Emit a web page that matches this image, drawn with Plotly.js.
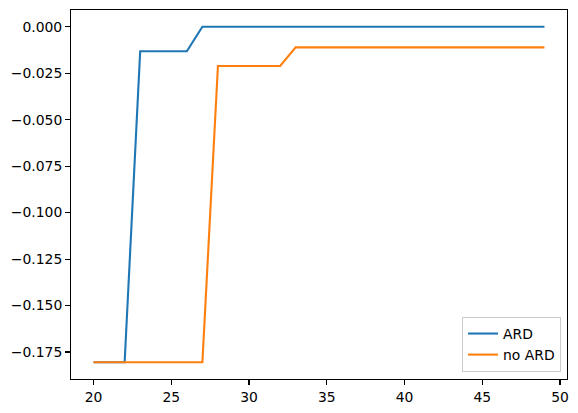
<!DOCTYPE html>
<html>
<head>
<meta charset="utf-8">
<script src="https://cdn.plot.ly/plotly-3.0.1.min.js"></script>
<style>html,body{margin:0;padding:0;background:#fff;}#chart{width:578px;height:413px;}</style>
</head>
<body>
<div id="chart"></div>
<script>
const xValues = [20,21,22,23,24,25,26,27,28,29,30,31,32,33,34,35,36,37,38,39,40,41,42,43,44,45,46,47,48,49];
const ardValues = [-0.1805,-0.1805,-0.1805,-0.0132,-0.0132,-0.0132,-0.0132,0,0,0,0,0,0,0,0,0,0,0,0,0,0,0,0,0,0,0,0,0,0,0];
const noArdValues = [-0.1805,-0.1805,-0.1805,-0.1805,-0.1805,-0.1805,-0.1805,-0.1805,-0.0211,-0.0211,-0.0211,-0.0211,-0.0211,-0.0111,-0.0111,-0.0111,-0.0111,-0.0111,-0.0111,-0.0111,-0.0111,-0.0111,-0.0111,-0.0111,-0.0111,-0.0111,-0.0111,-0.0111,-0.0111,-0.0111];
const seriesNames = ["ARD", "no ARD"];
const xTicks = [20,25,30,35,40,45,50];
const yTicks = [0,-0.025,-0.05,-0.075,-0.1,-0.125,-0.15,-0.175];

const font = {family: "DejaVu Sans", size: 13.9, color: "#000"};
const traces = [
  {x: xValues, y: ardValues, name: seriesNames[0], mode: "lines", line: {color: "#1f77b4", width: 2.1}},
  {x: xValues, y: noArdValues, name: seriesNames[1], mode: "lines", line: {color: "#ff7f0e", width: 2.1}}
];
const axisCommon = {showline: true, mirror: true, linecolor: "#000", linewidth: 1.1, ticks: "outside", ticklen: 4.9, tickwidth: 1.1, tickcolor: "#000", showgrid: false, zeroline: false, tickfont: font};
const layout = {
  width: 578, height: 413,
  margin: {l: 71, r: 11, t: 10, b: 34},
  paper_bgcolor: "#fff", plot_bgcolor: "#fff",
  font: font,
  xaxis: Object.assign({}, axisCommon, {range: [18.55, 50.45], tickvals: xTicks, ticktext: xTicks.map(String)}),
  yaxis: Object.assign({}, axisCommon, {range: [-0.1895, 0.009], tickvals: yTicks, tickformat: ".3f"}),
  showlegend: true,
  legend: {x: 0.988, y: 0.019, xanchor: "right", yanchor: "bottom", bgcolor: "rgba(255,255,255,0.8)", bordercolor: "#cccccc", borderwidth: 1, font: font, tracegroupgap: 0}
};
Plotly.newPlot("chart", traces, layout, {staticPlot: true, displayModeBar: false});
</script>
</body>
</html>
